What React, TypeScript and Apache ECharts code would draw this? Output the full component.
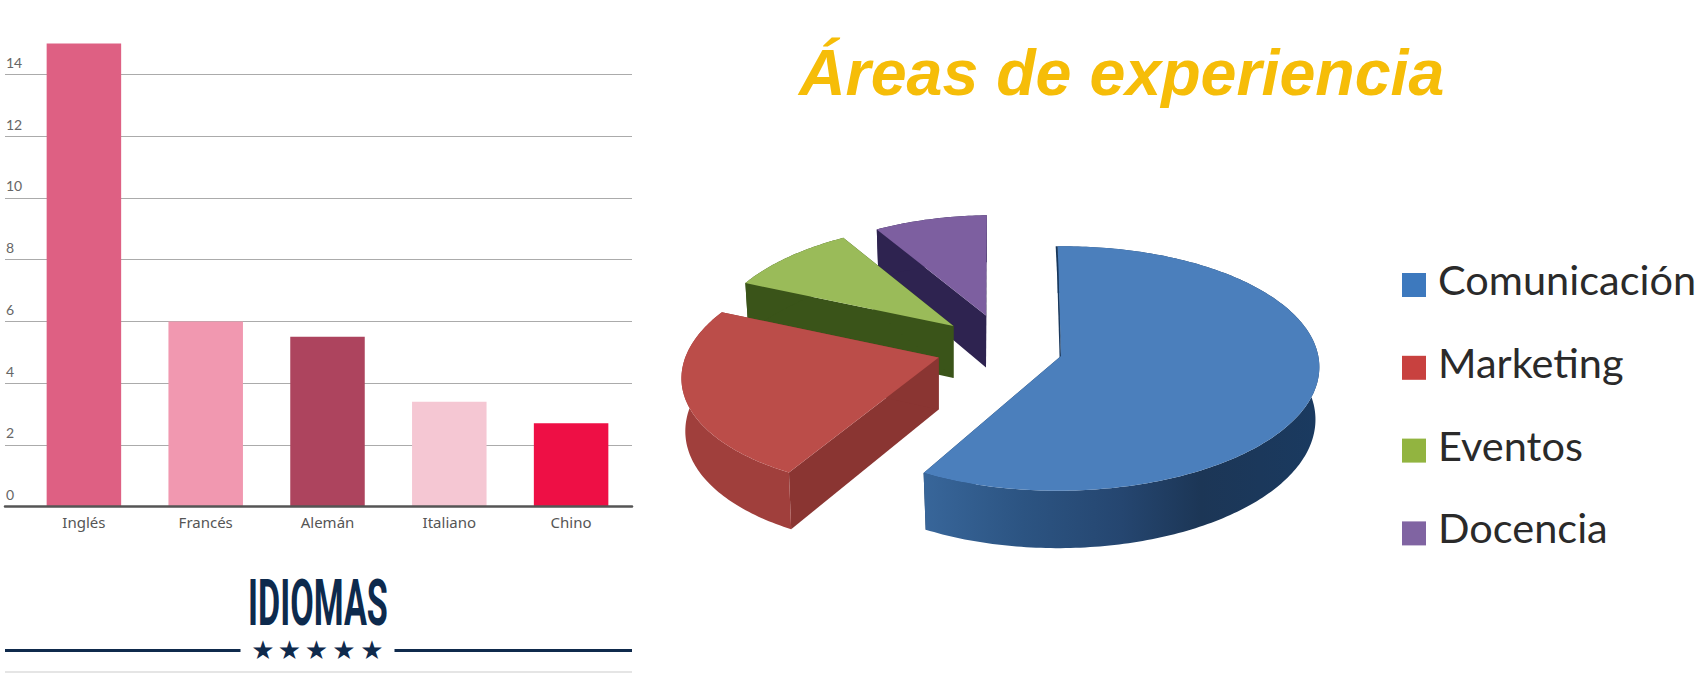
import React, { useEffect, useRef } from "react";
import * as echarts from "echarts";

const languages = ["Inglés", "Francés", "Alemán", "Italiano", "Chino"];
const languageLevels = [15, 6, 5.5, 3.4, 2.7];
const barColors = ["#de6083", "#f198b0", "#ad445e", "#f5c7d3", "#ee0f45"];

const areas = ["Comunicación", "Marketing", "Eventos", "Docencia"];
const areaShares = [58.3, 23.6, 9.6, 8.5];
const topColors = ["#4b7fbc", "#bb4d49", "#9abb59", "#7d5fa0"];
const legendColors = ["#3d79be", "#c8413f", "#92b440", "#8064a2"];
const wallColors = ["#1c3a5e", "#8a3532", "#3a5419", "#2e2350"];
const rimColors = ["#1c3a5e", "#a03f3c", "#3a5419", "#2e2350"];

const stars = [263, 289.5, 316.5, 344, 372];

// Projection of the 3D pie
const RX = 256, KY = 120.3, PERSP = 0.102, START_ANGLE = -1.5;
const APEX = [[1061, 356], [938.7, 357.5], [953.5, 326], [986, 315.4]];
const RADIUS = [1.005, 0.99, 0.935, 0.91];
const SHEAR = [-30, -180, -100, -76];
const DEPTH = 52;

function project(i: number, deg: number, r: number) {
  const a = (deg * Math.PI) / 180;
  const X = Math.sin(a) * r * RADIUS[i];
  const Y = -Math.cos(a) * r * RADIUS[i];
  const f = 1 / (1 - PERSP * Y);
  return { x: APEX[i][0] + X * RX * f + SHEAR[i] * (f - 1), y: APEX[i][1] + Y * KY * f, Y };
}
const lower = (i: number, p: { x: number; y: number; Y: number }) => [
  APEX[i][0] + (p.x - APEX[i][0]) * 0.985,
  p.y + DEPTH + 5.4 * p.Y,
];

function sliceItem(i: number) {
  return (_params: any, api: any) => {
    const total = areaShares.reduce((s, v) => s + v, 0);
    const before = areaShares.slice(0, i).reduce((s, v) => s + v, 0);
    const a0 = START_ANGLE + (before / total) * 360;
    const a1 = a0 + (api.value(0) / total) * 360;
    const arc: { x: number; y: number; Y: number }[] = [];
    const n = Math.ceil(a1 - a0);
    for (let k = 0; k <= n; k++) arc.push(project(i, a0 + ((a1 - a0) * k) / n, 1));
    const apex = { x: APEX[i][0], y: APEX[i][1], Y: 0 };
    const top = [[apex.x, apex.y], ...arc.map((p) => [p.x, p.y])];
    const wall = (p: { x: number; y: number; Y: number }) => [[apex.x, apex.y], [p.x, p.y], lower(i, p), lower(i, apex)];
    const rim = [...arc.map((p) => [p.x, p.y]), ...arc.slice().reverse().map((p) => lower(i, p))];
    const rimFill: any = i === 0
      ? new echarts.graphic.LinearGradient(0, 0, 1, 0, [
          { offset: 0, color: "#38669a" },
          { offset: 0.25, color: "#2c5482" },
          { offset: 0.5, color: "#254670" },
          { offset: 0.7, color: "#1c3656" },
          { offset: 1, color: "#1a3a60" },
        ])
      : rimColors[i];
    const children: any[] = [
      { type: "polygon", shape: { points: wall(arc[0]) }, style: { fill: wallColors[i] } },
      { type: "polygon", shape: { points: wall(arc[arc.length - 1]) }, style: { fill: wallColors[i] } },
      { type: "polygon", shape: { points: rim }, style: { fill: rimFill } },
      { type: "polygon", shape: { points: top }, style: { fill: topColors[i] } },
    ];
    if (i === 0) {
      children.push({
        type: "polygon",
        shape: { points: [[arc[0].x - 2, arc[0].y], [arc[0].x, arc[0].y], [apex.x, apex.y]] },
        style: { fill: "#17375c" },
      });
    }
    return { type: "group", children };
  };
}

export default function App() {
  const ref = useRef<HTMLDivElement>(null);
  useEffect(() => {
    const chart = echarts.init(ref.current!, null, { renderer: "svg" });
    const gridTop = 12.5, gridH = 494.2;
    chart.setOption({
      animation: false,
      backgroundColor: "#ffffff",
      title: {
        text: "Áreas de experiencia",
        left: 799,
        top: 40,
        padding: 0,
        textStyle: { fontFamily: "Liberation Sans", fontSize: 64.5, fontWeight: "bold", fontStyle: "italic", color: "#f6bd08" },
      },
      legend: {
        orient: "vertical",
        left: 1402,
        top: 258,
        padding: 0,
        itemWidth: 24,
        itemHeight: 24,
        itemGap: 28.8,
        icon: "rect",
        selectedMode: false,
        data: areas.map((name, i) => ({ name, itemStyle: { color: legendColors[i] } })),
        formatter: "{a|{name}}",
        textStyle: {
          rich: { a: { fontFamily: "Lato", fontSize: 41.5, color: "#2a2a2a", lineHeight: 47, padding: [0, 0, 12, 7] } },
        },
      },
      grid: [
        { left: 5, width: 627, top: gridTop, height: gridH },
        { left: 23, width: 609, top: gridTop, height: gridH },
      ],
      xAxis: [
        {
          gridIndex: 0, type: "value", min: 0, max: 1, z: 5,
          axisLine: { show: true, onZero: false, lineStyle: { color: "#555555", width: 2.5 } },
          axisTick: { show: false }, axisLabel: { show: false }, splitLine: { show: false },
        },
        {
          gridIndex: 1, type: "category", data: languages,
          axisLine: { show: false }, axisTick: { show: false },
          axisLabel: { margin: 8, fontFamily: "Noto Sans", fontSize: 15, color: "#555" },
        },
      ],
      yAxis: [
        {
          gridIndex: 0, type: "value", min: 0, max: 16, interval: 2,
          axisLine: { show: false }, axisTick: { show: false },
          axisLabel: {
            inside: true, margin: 1, showMaxLabel: false, align: "left", verticalAlign: "bottom",
            padding: [0, 0, 5, 0], fontFamily: "Lato", fontSize: 14, color: "#666",
          },
          splitLine: { show: true, showMinLine: false, showMaxLine: false, lineStyle: { color: "#ababab", width: 1.2 } },
        },
        {
          gridIndex: 1, type: "value", min: 0, max: 16, interval: 2, show: false,
          splitLine: { show: false },
        },
      ],
      series: [
        {
          type: "bar", xAxisIndex: 1, yAxisIndex: 1, barWidth: 74.5,
          data: languageLevels.map((value, i) => ({ value, itemStyle: { color: barColors[i] } })),
        },
        ...areas.map((name, i) => ({
          type: "custom",
          name,
          coordinateSystem: "none",
          itemStyle: { color: legendColors[i] },
          silent: true,
          z: 6 - i,
          data: [[areaShares[i]]],
          renderItem: sliceItem(i),
        })),
      ],
      graphic: [
        {
          type: "text", x: 318, y: 603, scaleX: 0.525, scaleY: 1,
          style: {
            text: "IDIOMAS", fontFamily: "Roboto", fontWeight: "bold", fontSize: 65, fill: "#0d2a4d",
            textAlign: "center", textVerticalAlign: "middle",
          },
        },
        { type: "line", shape: { x1: 5, y1: 650.5, x2: 240.5, y2: 650.5 }, style: { stroke: "#0f2a4c", lineWidth: 3 } },
        { type: "line", shape: { x1: 394.5, y1: 650.5, x2: 632, y2: 650.5 }, style: { stroke: "#0f2a4c", lineWidth: 3 } },
        { type: "line", shape: { x1: 5, y1: 672, x2: 632, y2: 672 }, style: { stroke: "#dddddd", lineWidth: 1.5 } },
        ...stars.map((x) => ({
          type: "text", x, y: 650,
          style: {
            text: "★", fontFamily: "DejaVu Sans", fontSize: 26, fill: "#0f2a4c",
            textAlign: "center", textVerticalAlign: "middle",
          },
        })),
      ],
    });
    return () => chart.dispose();
  }, []);
  return <div ref={ref} style={{ position: "fixed", left: 0, top: 0, width: 1700, height: 677 }} />;
}
